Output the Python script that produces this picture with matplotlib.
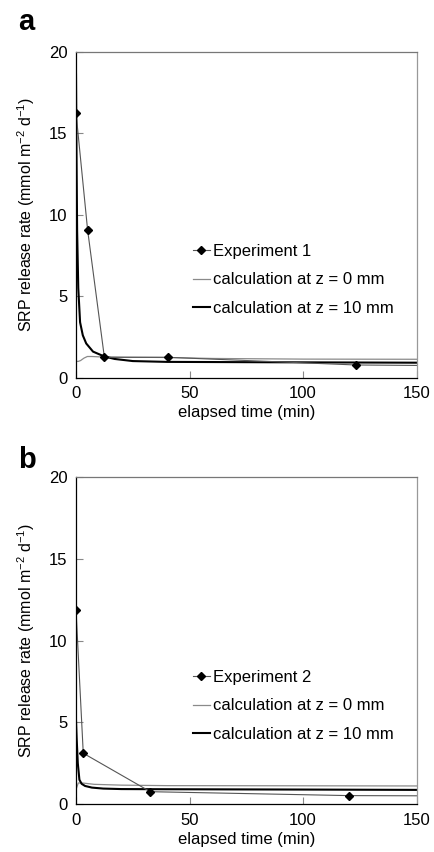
import numpy as np
import matplotlib
matplotlib.use("Agg")
import matplotlib.pyplot as plt

plt.rcParams["font.family"] = ["Liberation Sans", "DejaVu Sans"]
plt.rcParams["mathtext.default"] = "regular"

# ---------------- data ----------------
# panel a
exp1_t = [0, 5.1, 12.5, 40.4, 123.2, 200]
exp1_v = [16.26, 9.08, 1.25, 1.25, 0.78, 0.70]
calc0_a_t = [0, 1, 2, 3.5, 5, 7, 10, 20, 40, 60, 100, 150]
calc0_a_v = [1.0, 1.0, 1.05, 1.2, 1.3, 1.3, 1.28, 1.26, 1.24, 1.18, 1.14, 1.13]
calc10_a_t = [0, 0.2, 0.5, 1, 1.8, 3, 4.5, 7.5, 12.5, 17, 25, 40, 80, 150]
calc10_a_v = [18.6, 14, 9, 5.5, 3.4, 2.6, 2.1, 1.6, 1.3, 1.15, 1.02, 0.97, 0.95, 0.92]

# panel b
exp2_t = [0, 3.2, 32.7, 120.4, 200]
exp2_v = [11.9, 3.12, 0.77, 0.53, 0.50]
calc0_b_t = [0, 1, 3, 8, 20, 40, 100, 150]
calc0_b_v = [0.9, 1.3, 1.3, 1.22, 1.17, 1.14, 1.13, 1.12]
calc10_b_t = [0, 0.3, 0.8, 1.5, 2.5, 4, 7, 12, 20, 40, 100, 150]
calc10_b_v = [5.1, 4.0, 2.5, 1.5, 1.25, 1.12, 1.02, 0.96, 0.93, 0.92, 0.90, 0.88]

panels = [
    ("a", "Experiment 1", exp1_t, exp1_v, calc0_a_t, calc0_a_v, calc10_a_t, calc10_a_v),
    ("b", "Experiment 2", exp2_t, exp2_v, calc0_b_t, calc0_b_v, calc10_b_t, calc10_b_v),
]

fig = plt.figure(figsize=(4.34, 8.52), dpi=100, facecolor="white")
ax_rects = [
    [0.1751, 0.5567, 0.785, 0.3826],
    [0.1751, 0.0560, 0.785, 0.3841],
]
letter_y = [0.9648, 0.4507]   # baselines of the panel letters (figure coords)

for rect, ly, (letter, exp_label, et, ev, c0t, c0v, c10t, c10v) in zip(ax_rects, letter_y, panels):
    ax = fig.add_axes(rect)
    ax.plot(c0t, c0v, color="#8a8a8a", linewidth=0.9,
            label="calculation at z = 0 mm")
    ax.plot(c10t, c10v, color="black", linewidth=1.5,
            label="calculation at z = 10 mm")
    ax.plot(et, ev, color="#555555", linewidth=0.8, marker="D",
            markersize=4.5, markerfacecolor="black",
            markeredgecolor="black", label=exp_label)

    ax.set_xlim(0, 150)
    ax.set_ylim(0, 20)
    ax.set_xticks([0, 50, 100, 150])
    ax.set_yticks([0, 5, 10, 15, 20])
    ax.tick_params(direction="in", length=5, width=0.8, color="#888888",
                   labelsize=12, pad=6)
    ax.spines["left"].set_color("black")
    ax.spines["bottom"].set_color("black")
    ax.spines["top"].set_color("#777777")
    ax.spines["right"].set_color("#999999")
    for s in ax.spines.values():
        s.set_linewidth(0.9)

    ax.set_xlabel("elapsed time (min)", fontsize=12, labelpad=3)
    ax.set_ylabel("SRP release rate (mmol m$^{-2}$ d$^{-1}$)",
                  fontsize=11.5, labelpad=9)

    handles, labels = ax.get_legend_handles_labels()
    order = [2, 0, 1]
    ax.legend([handles[i] for i in order], [labels[i] for i in order],
              loc="upper left", bbox_to_anchor=(0.343, 0.41),
              frameon=False, fontsize=12, handlelength=1.0,
              handletextpad=0.18, labelspacing=0.8,
              borderpad=0, borderaxespad=0)

    fig.text(0.042, ly, letter, fontsize=21, fontweight="bold",
             va="baseline", ha="left")

fig.savefig("out.png", dpi=100, facecolor="white")
